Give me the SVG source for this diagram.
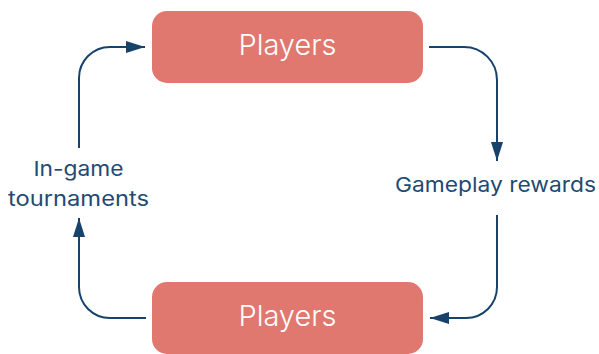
<svg xmlns="http://www.w3.org/2000/svg" width="599" height="354" viewBox="0 0 599 354">
  <defs>
    <marker id="arrow" markerUnits="userSpaceOnUse" markerWidth="19" markerHeight="12" viewBox="0 0 19 12" refX="19" refY="6" orient="auto">
      <path d="M0,0 L19,6 L0,12 Z" fill="#17426B"/>
    </marker>
    <style>
      .box { fill: #E07870; }
      .boxtext { font-family: Inter, "Liberation Sans", sans-serif; font-size: 29px; font-weight: 300; fill: #FFFFFF; text-anchor: middle; }
      .label { font-family: Inter, "Liberation Sans", sans-serif; font-size: 20.5px; fill: #1F4A72; text-anchor: middle; }
      .conn { fill: none; stroke: #17426B; stroke-width: 2; marker-end: url(#arrow); }
    </style>
  </defs>
  <g id="players-top">
    <rect class="box" x="152" y="11" width="271" height="72" rx="15"/>
    <text class="boxtext" x="287.5" y="55" textLength="98" lengthAdjust="spacingAndGlyphs">Players</text>
  </g>
  <g id="players-bottom">
    <rect class="box" x="152" y="282" width="271" height="72" rx="15"/>
    <text class="boxtext" x="287.5" y="326" textLength="98" lengthAdjust="spacingAndGlyphs">Players</text>
  </g>
  <g id="label-rewards">
    <text class="label" x="495.5" y="191.7" textLength="201" lengthAdjust="spacingAndGlyphs">Gameplay rewards</text>
  </g>
  <g id="label-tournaments">
    <text class="label" x="78.5" y="176" textLength="90" lengthAdjust="spacingAndGlyphs">In-game</text>
    <text class="label" x="78.5" y="205.7" textLength="141" lengthAdjust="spacingAndGlyphs">tournaments</text>
  </g>
  <g id="connectors">
    <path class="conn" d="M429,47 H464 A33,33 0 0 1 497,80 V161"/>
    <path class="conn" d="M497,215 V287 A31,31 0 0 1 466,318 H430"/>
    <path class="conn" d="M146,318 H110 A31,31 0 0 1 79,287 V218"/>
    <path class="conn" d="M79,148 V78 A31,31 0 0 1 110,47 H145"/>
  </g>
</svg>
